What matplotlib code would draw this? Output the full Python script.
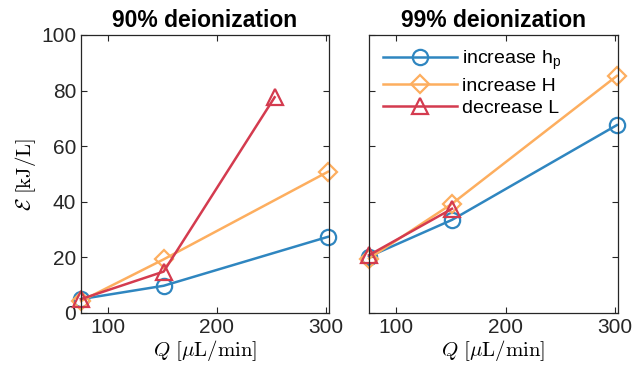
import numpy as np
import matplotlib
matplotlib.use("Agg")
import matplotlib.pyplot as plt

plt.rcParams['font.family'] = ['Liberation Sans', 'DejaVu Sans']
plt.rcParams['mathtext.fontset'] = 'cm'

# flow rates (uL/min) and energy (kJ/L)
q = [75, 151, 302]
q_L90 = [75, 151, 253]
q_L99 = [75, 151]

hp_90 = [5.0, 9.8, 27.4]
H_90 = [4.3, 19.3, 50.8]
L_90 = [5.0, 14.9, 77.6]

hp_99 = [20.3, 33.5, 67.6]
H_99 = [19.6, 39.3, 85.3]
L_99 = [20.8, 37.5]

labels = [r'increase h$_{\mathregular{p}}$', 'increase H', 'decrease L']
colors = ['#2f86c0', '#fdae5f', '#d43b4f']
markers = ['o', 'D', '^']
msizes = [11, 9, 12]

fig = plt.figure(figsize=(6.34, 3.72), dpi=100)
ax1 = fig.add_axes([81/634, 59/372, 248/634, 278/372])
ax2 = fig.add_axes([369/634, 59/372, 249/634, 278/372])

def draw(ax, xs, ys):
    for x, y, c, m, ms, lab in zip(xs, ys, colors, markers, msizes, labels):
        ax.plot(x, y, color=c, marker=m, markersize=ms,
                markerfacecolor='none', markeredgewidth=1.6, linewidth=1.8,
                label=lab, clip_on=False)

draw(ax1, [q, q, q_L90], [hp_90, H_90, L_90])
draw(ax2, [q, q, q_L99], [hp_99, H_99, L_99])

for ax, t in [(ax1, '90% deionization'), (ax2, '99% deionization')]:
    ax.set_xlim(75, 303)
    ax.set_ylim(0, 100)
    ax.set_xticks([100, 200, 300])
    ax.set_yticks([0, 20, 40, 60, 80, 100])
    ax.tick_params(direction='in', top=True, right=True, labelsize=15,
                   colors='#262626', length=4, width=0.8)
    for s in ax.spines.values():
        s.set_color('#262626')
        s.set_linewidth(0.9)
    ax.set_title(t, fontsize=16.5, fontweight='bold', pad=6)
    ax.set_xlabel(r'$Q\ [\mu\mathrm{L}/\mathrm{min}]$', fontsize=15, labelpad=1)

ax2.set_yticklabels([])
ax1.set_ylabel(r'$\mathcal{E}\ [\mathrm{kJ}/\mathrm{L}]$', fontsize=15, labelpad=2)

ax2.legend(loc='upper left', frameon=False, fontsize=14, handlelength=3.8,
           handletextpad=0.3, labelspacing=0.25, borderaxespad=0.3,
           bbox_to_anchor=(0.0, 1.0))

fig.savefig('out.png', dpi=100)
